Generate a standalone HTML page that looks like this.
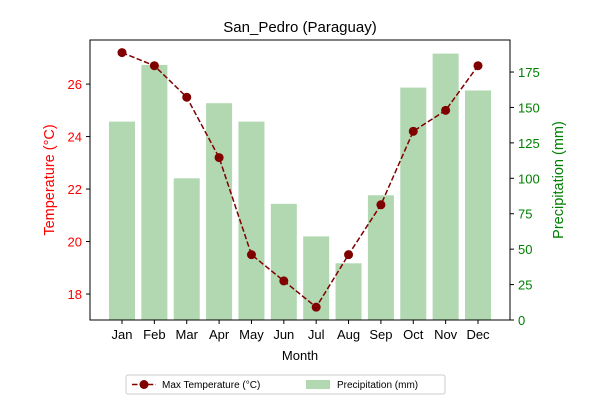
<!DOCTYPE html>
<html><head><meta charset="utf-8"><style>
body{margin:0;background:#fff;font-family:"Liberation Sans","DejaVu Sans",sans-serif;}
</style></head><body>
<svg id="chart" width="600" height="400" xmlns="http://www.w3.org/2000/svg"></svg>
<script>
const months=["Jan","Feb","Mar","Apr","May","Jun","Jul","Aug","Sep","Oct","Nov","Dec"];
const maxTemp=[27.2,26.7,25.5,23.2,19.5,18.5,17.5,19.5,21.4,24.2,25.0,26.7];
const precip=[140,180,100,153,140,82,59,40,88,164,188,162];
const tempTicks=[18,20,22,24,26];
const precipTicks=[0,25,50,75,100,125,150,175];

const NS="http://www.w3.org/2000/svg";
const svg=document.getElementById('chart');
const L=90,R=510,T=40,B=320;
const tMin=17.01,tMax=27.68,pMax=197.6;
const xS=i=>122+i*(478-122)/11;
const yT=v=>B-(v-tMin)/(tMax-tMin)*(B-T);
const yP=v=>B-v/pMax*(B-T);
function el(tag,attrs,name,text){const e=document.createElementNS(NS,tag);for(const k in attrs)e.setAttribute(k,attrs[k]);


if(text!==undefined)e.textContent=text;svg.appendChild(e);return e;}

precip.forEach((v,i)=>{el('rect',{x:xS(i)-13,y:yP(v),width:26,height:B-yP(v),fill:'#b1d8b1'},'precip-bar-'+months[i].toLowerCase());});
const pts=maxTemp.map((v,i)=>xS(i)+','+yT(v)).join(' ');
el('polyline',{points:pts,fill:'none',stroke:'#800000','stroke-width':1.5,'stroke-dasharray':'5.5,2.4'},'temp-line');
maxTemp.forEach((v,i)=>{el('circle',{cx:xS(i),cy:yT(v),r:4.5,fill:'#800000'},'temp-point-'+months[i].toLowerCase());});
el('rect',{x:L,y:T,width:R-L,height:B-T,fill:'none',stroke:'#000','stroke-width':1},'plot-frame');

tempTicks.forEach(v=>{const y=yT(v);el('line',{x1:L-4,x2:L,y1:y,y2:y,stroke:'#000'},'left-tick');
el('text',{x:L-8,y:y+5,'text-anchor':'end','font-size':13,fill:'#ff0000'},'left-tick-label',v);});
precipTicks.forEach(v=>{const y=yP(v);el('line',{x1:R,x2:R+4,y1:y,y2:y,stroke:'#000'},'right-tick');
el('text',{x:R+8,y:y+5,'font-size':13,fill:'#008000'},'right-tick-label',v);});
months.forEach((m,i)=>{const x=xS(i);el('line',{x1:x,x2:x,y1:B,y2:B+4,stroke:'#000'},'x-tick');
el('text',{x:x,y:B+19,'text-anchor':'middle','font-size':13},'x-tick-label',m);});

el('text',{x:300,y:32,'text-anchor':'middle','font-size':15},'chart-title','San_Pedro (Paraguay)');
el('text',{x:300,y:360,'text-anchor':'middle','font-size':13},'x-axis-title','Month');
el('text',{x:0,y:0,'text-anchor':'middle','font-size':14.5,fill:'#ff0000',transform:'translate(54,180) rotate(-90)'},'left-axis-title','Temperature (°C)');
el('text',{x:0,y:0,'text-anchor':'middle','font-size':14.5,fill:'#008000',transform:'translate(563,180) rotate(-90)'},'right-axis-title','Precipitation (mm)');

el('rect',{x:126,y:375,width:319,height:19,rx:2,fill:'#fff',stroke:'#ccc'},'legend');
el('line',{x1:132,x2:156,y1:384.5,y2:384.5,stroke:'#800000','stroke-width':1.5,'stroke-dasharray':'5.5,2.4'},'legend-temp-line');
el('circle',{cx:144,cy:384.5,r:4.5,fill:'#800000'},'legend-temp-marker');
el('text',{x:162,y:388,'font-size':10},'legend-temp-label','Max Temperature (°C)');
el('rect',{x:306,y:380,width:24,height:9,fill:'#b1d8b1'},'legend-precip-swatch');
el('text',{x:337,y:388,'font-size':10},'legend-precip-label','Precipitation (mm)');
</script>
</body></html>
